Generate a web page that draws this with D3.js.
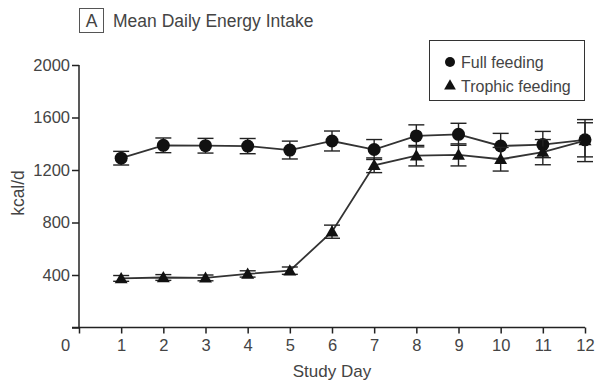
<!DOCTYPE html>
<html>
<head>
<meta charset="utf-8">
<style>
    body { margin: 0; background: #fff; }
    svg { font-family: "Liberation Sans", Arial, sans-serif; }
</style>
</head>
<body>
<svg width="595" height="382"></svg>
<script src="https://d3js.org/d3.v7.min.js"></script>
<script>
    // data
    let days = [1, 2, 3, 4, 5, 6, 7, 8, 9, 10, 11, 12]
    let fullMean = [1290, 1388, 1385, 1382, 1352, 1421, 1356, 1460, 1472, 1383, 1394, 1430]
    let fullErr  = [52, 56, 56, 58, 68, 76, 76, 84, 84, 96, 100, 130]
    let trophicMean = [374, 381, 378, 408, 433, 730, 1236, 1309, 1315, 1282, 1336, 1424]
    let trophicErr  = [22, 22, 22, 24, 28, 50, 56, 78, 84, 90, 96, 160]
    let yTicks = [400, 800, 1200, 1600, 2000]
    let xTicks = [1, 2, 3, 4, 5, 6, 7, 8, 9, 10, 11, 12]

    let svg = d3.select("svg")
    let ink = "#222"
    let textCol = "#444"

    let x = d3.scaleLinear().domain([0, 12]).range([79, 585])
    let y = d3.scaleLinear().domain([0, 2000]).range([327.5, 65])

    // y axis
    let yAxis = svg.append("g")
        .attr("transform", "translate(79,0)")
        .call(d3.axisLeft(y).tickValues([0].concat(yTicks)).tickSize(7).tickPadding(2).tickFormat(d => d === 0 ? "" : d))
    yAxis.select(".domain").attr("d", "M0," + y(2000) + "V" + y(0))

    // x axis
    let xAxis = svg.append("g")
        .attr("transform", "translate(0," + y(0) + ")")
        .call(d3.axisBottom(x).tickValues([0].concat(xTicks)).tickSize(6).tickPadding(6))
    xAxis.select(".domain").attr("d", "M72,0H" + x(12))

    svg.selectAll(".tick line").attr("stroke", ink).attr("stroke-width", 1.5)
    svg.selectAll(".domain").attr("stroke", ink).attr("stroke-width", 1.5)
    svg.selectAll(".tick text").attr("font-size", 16.5).attr("fill", textCol)
        .attr("font-family", "Liberation Sans, Arial, sans-serif")
    // the 0 sits in the corner, left of the axis
    xAxis.selectAll(".tick").filter(d => d === 0).select("text").attr("dx", -14)

    // axis titles
    svg.append("text")
        .attr("x", x(6)).attr("y", 377)
        .attr("text-anchor", "middle").attr("font-size", 17).attr("fill", textCol)
        .text("Study Day")
    svg.append("text")
        .attr("transform", "translate(24,193) rotate(-90)")
        .attr("text-anchor", "middle").attr("font-size", 17.5).attr("fill", textCol)
        .text("kcal/d")

    // panel title
    svg.append("rect").attr("x", 79.5).attr("y", 8.5).attr("width", 24).attr("height", 24)
        .attr("fill", "none").attr("stroke", "#555").attr("stroke-width", 1)
    svg.append("text").attr("x", 91.5).attr("y", 27).attr("text-anchor", "middle")
        .attr("font-size", 17.5).attr("fill", textCol).text("A")
    svg.append("text").attr("x", 113).attr("y", 27)
        .attr("font-size", 17.5).attr("fill", textCol).text("Mean Daily Energy Intake")

    let full = days.map((d, i) => ({ day: d, v: fullMean[i], e: fullErr[i] }))
    let trophic = days.map((d, i) => ({ day: d, v: trophicMean[i], e: trophicErr[i] }))

    let line = d3.line().x(d => x(d.day)).y(d => y(d.v))
    let tri = d3.symbol().type(d3.symbolTriangle).size(72)

    function drawSeries(data, marker) {
        svg.append("path").datum(data).attr("d", line)
            .attr("fill", "none").attr("stroke", "#333").attr("stroke-width", 1.8)

        let eb = svg.append("g").selectAll("g").data(data).join("g")
            .attr("stroke", ink).attr("stroke-width", 1.4)
        eb.append("line").attr("x1", d => x(d.day)).attr("x2", d => x(d.day))
            .attr("y1", d => y(d.v + d.e)).attr("y2", d => y(d.v - d.e))
        eb.append("line").attr("x1", d => x(d.day) - 8).attr("x2", d => x(d.day) + 8)
            .attr("y1", d => y(d.v + d.e)).attr("y2", d => y(d.v + d.e))
        eb.append("line").attr("x1", d => x(d.day) - 8).attr("x2", d => x(d.day) + 8)
            .attr("y1", d => y(d.v - d.e)).attr("y2", d => y(d.v - d.e))

        if (marker === "circle") {
            svg.append("g").selectAll("circle").data(data).join("circle")
                .attr("cx", d => x(d.day)).attr("cy", d => y(d.v)).attr("r", 6.5)
                .attr("fill", "#111")
        } else {
            svg.append("g").selectAll("path").data(data).join("path")
                .attr("transform", d => "translate(" + x(d.day) + "," + (y(d.v) + 1) + ")")
                .attr("d", tri).attr("fill", "#111")
        }
    }

    drawSeries(full, "circle")
    drawSeries(trophic, "triangle")

    // legend
    let lg = svg.append("g")
    lg.append("rect").attr("x", 429.5).attr("y", 40.5).attr("width", 155).attr("height", 60)
        .attr("fill", "#fff").attr("stroke", "#333").attr("stroke-width", 1)
    lg.append("circle").attr("cx", 450).attr("cy", 62).attr("r", 5).attr("fill", "#111")
    lg.append("text").attr("x", 461).attr("y", 67.5).attr("font-size", 16).attr("fill", textCol).text("Full feeding")
    lg.append("path").attr("transform", "translate(450,86)").attr("d", d3.symbol().type(d3.symbolTriangle).size(60)).attr("fill", "#111")
    lg.append("text").attr("x", 461).attr("y", 91.5).attr("font-size", 16).attr("fill", textCol).text("Trophic feeding")
</script>
</body>
</html>
